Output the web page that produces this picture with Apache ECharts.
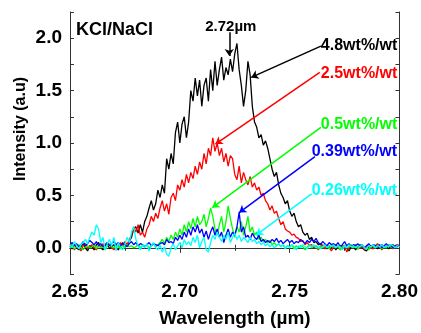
<!DOCTYPE html>
<html>
<head>
<meta charset="utf-8">
<script src="https://cdn.jsdelivr.net/npm/echarts@6/dist/echarts.min.js"></script>
<style>
  html, body { margin: 0; padding: 0; background: #fff; }
  #main { width: 421px; height: 333px; }
</style>
</head>
<body>
<div id="main"></div>
<script>
  // wavelength sampling (µm)
  const waveStart = 2.65
  const waveStep = 0.001
  const seriesNames = ['4.8wt%/wt', '2.5wt%/wt', '0.5wt%/wt', '0.39wt%/wt', '0.26wt%/wt']
  const seriesColors = ['#000000', '#ff0000', '#00ff00', '#0000ff', '#00ffff']

  const y48 = [
    0.02, -0.01, 0.03, 0.00, -0.02, 0.01, 0.04, 0.00, -0.03, 0.02,
    0.01, -0.02, 0.03, 0.05, 0.00, -0.02, 0.02, 0.04, -0.01, 0.01,
    0.03, 0.00, -0.02, 0.02, 0.05, 0.01, 0.03, 0.06, 0.10, 0.18,
    0.20, 0.14, 0.22, 0.15, 0.25, 0.30, 0.38, 0.45, 0.36, 0.42,
    0.55, 0.48, 0.60, 0.52, 0.85, 0.75, 0.90, 0.80, 1.10, 1.20,
    1.00, 1.18, 1.25, 1.05, 1.20, 1.50, 1.40, 1.62, 1.45, 1.60,
    1.35, 1.55, 1.62, 1.40, 1.70, 1.50, 1.78, 1.55, 1.70, 1.82,
    1.60, 1.72, 1.65, 1.80, 1.68, 1.85, 1.95, 1.70, 1.55, 1.35,
    1.50, 1.78, 1.65, 1.35, 1.20, 1.15, 1.05, 1.08, 0.98, 1.02,
    0.95, 0.85, 0.75, 0.68, 0.72, 0.60, 0.52, 0.48, 0.42, 0.45,
    0.35, 0.30, 0.33, 0.25, 0.20, 0.22, 0.15, 0.12, 0.14, 0.08,
    0.10, 0.05, 0.06, 0.03, 0.04, 0.01, 0.03, -0.01, 0.02, 0.00,
    0.03, -0.02, 0.01, 0.02, -0.01, 0.02, 0.00, -0.03, 0.01, 0.02,
    -0.02, 0.01, 0.03, 0.00, -0.02, -0.03, 0.01, 0.02, 0.00, 0.02,
    -0.01, 0.01, 0.03, 0.00, 0.02, -0.01, 0.01, 0.03, 0.00, 0.02, 0.01
  ]
  const y25 = [
    0.01, 0.03, -0.02, 0.02, 0.00, -0.03, 0.02, 0.04, -0.01, 0.01,
    0.03, 0.00, -0.02, 0.02, 0.01, 0.04, -0.01, 0.02, 0.03, 0.00,
    -0.02, 0.03, 0.01, 0.05, 0.02, 0.06, 0.03, 0.08, 0.12, 0.20,
    0.15, 0.22, 0.12, 0.15, 0.10, 0.18, 0.22, 0.30, 0.25, 0.33,
    0.28, 0.38, 0.45, 0.35, 0.42, 0.32, 0.48, 0.52, 0.45, 0.60,
    0.55, 0.65, 0.58, 0.70, 0.62, 0.72, 0.66, 0.78, 0.70, 0.82,
    0.75, 0.90, 0.80, 0.95, 0.88, 1.05, 0.92, 1.00, 0.88, 0.95,
    0.82, 0.90, 0.78, 0.88, 0.85, 0.70, 0.65, 0.78, 0.62, 0.72,
    0.65, 0.60, 0.68, 0.58, 0.62, 0.55, 0.58, 0.50, 0.52, 0.45,
    0.42, 0.36, 0.40, 0.33, 0.35, 0.28, 0.22, 0.25, 0.18, 0.16,
    0.15, 0.12, 0.13, 0.10, 0.09, 0.06, 0.07, 0.03, 0.05, 0.02,
    0.03, 0.00, 0.02, -0.02, 0.01, 0.03, -0.01, 0.02, 0.00, -0.03,
    0.01, 0.03, 0.00, -0.02, 0.02, 0.01, -0.04, 0.00, 0.02, 0.01,
    0.03, -0.01, 0.00, 0.02, -0.02, 0.01, 0.03, 0.00, -0.01, 0.02,
    0.04, 0.01, -0.02, 0.02, 0.00, 0.03, 0.01, -0.01, 0.02, 0.03, 0.01
  ]
  const y05 = [
    0.00, 0.02, -0.01, 0.01, 0.03, 0.00, -0.02, 0.01, 0.02, 0.00,
    0.01, 0.03, -0.01, 0.02, 0.00, 0.01, -0.02, 0.02, 0.04, 0.01,
    0.00, 0.02, 0.01, -0.01, 0.02, 0.00, 0.03, 0.01, 0.02, 0.00,
    0.01, 0.03, 0.00, 0.02, 0.01, 0.03, 0.00, 0.02, 0.04, 0.01,
    0.03, 0.05, 0.08, 0.04, 0.10, 0.06, 0.12, 0.08, 0.15, 0.10,
    0.18, 0.12, 0.22, 0.15, 0.25, 0.18, 0.28, 0.20, 0.30, 0.22,
    0.25, 0.32, 0.20, 0.28, 0.38, 0.30, 0.18, 0.12, 0.22, 0.30,
    0.15, 0.25, 0.40, 0.28, 0.18, 0.10, 0.20, 0.15, 0.25, 0.12,
    0.20, 0.30, 0.15, 0.20, 0.12, 0.15, 0.08, 0.10, 0.06, 0.08,
    0.05, 0.07, 0.03, 0.05, 0.02, 0.04, 0.01, 0.03, 0.00, 0.02,
    0.01, 0.03, -0.01, 0.02, 0.00, 0.02, 0.01, -0.02, 0.01, 0.03,
    0.00, 0.02, 0.01, -0.01, 0.02, 0.00, 0.03, 0.01, -0.01, 0.02,
    0.01, 0.00, 0.02, -0.02, 0.01, 0.02, 0.00, 0.01, 0.03, 0.00,
    0.02, -0.01, 0.01, 0.02, 0.00, 0.01, -0.02, 0.02, 0.01, 0.00,
    0.02, 0.01, -0.01, 0.02, 0.00, 0.03, 0.01, 0.00, 0.02, 0.01, 0.02
  ]
  const y039 = [
    0.03, 0.05, 0.02, 0.04, 0.01, 0.03, 0.06, 0.02, 0.04, 0.07,
    0.05, 0.03, 0.06, 0.02, 0.04, 0.01, 0.03, 0.05, 0.02, 0.04,
    0.06, 0.03, 0.05, 0.02, 0.04, 0.03, 0.01, 0.04, 0.06, 0.03,
    0.05, 0.02, 0.04, 0.03, 0.01, 0.03, 0.05, 0.02, 0.04, 0.03,
    0.02, 0.04, 0.05, 0.03, 0.08, 0.05, 0.06, 0.04, 0.10, 0.07,
    0.12, 0.08, 0.15, 0.10, 0.18, 0.12, 0.20, 0.15, 0.22, 0.14,
    0.18, 0.10, 0.16, 0.08, 0.15, 0.20, 0.12, 0.18, 0.10, 0.15,
    0.05, 0.12, 0.18, 0.10, 0.15, 0.12, 0.20, 0.34, 0.15, 0.20,
    0.10, 0.12, 0.08, 0.14, 0.10, 0.08, 0.12, 0.06, 0.08, 0.05,
    0.07, 0.05, 0.08, 0.06, 0.09, 0.05, 0.07, 0.04, 0.06, 0.08,
    0.05, 0.07, 0.04, 0.06, 0.05, 0.08, 0.06, 0.04, 0.07, 0.05,
    0.08, 0.06, 0.09, 0.05, 0.03, 0.06, 0.04, 0.02, 0.05, 0.03,
    0.04, 0.02, 0.05, 0.01, 0.03, 0.06, 0.02, 0.04, 0.01, 0.03,
    0.02, 0.04, 0.01, 0.03, 0.00, 0.02, 0.04, 0.01, 0.03, 0.02,
    0.01, 0.03, 0.00, 0.02, 0.04, 0.01, 0.03, 0.00, 0.02, 0.01, 0.03
  ]
  const y026 = [
    0.03, 0.00, 0.06, 0.02, -0.01, 0.03, 0.05, 0.08, 0.04, 0.10,
    0.15, 0.12, 0.22, 0.18, 0.05, 0.10, -0.02, 0.04, 0.08, 0.02,
    0.10, -0.03, 0.05, 0.00, -0.02, 0.03, 0.10, 0.05, 0.15, 0.20,
    0.08, 0.02, -0.02, 0.03, 0.00, 0.04, -0.03, 0.02, 0.05, 0.00,
    -0.02, 0.03, -0.04, 0.01, -0.06, -0.08, 0.00, 0.04, -0.02, 0.02,
    0.05, 0.00, 0.08, 0.03, 0.06, 0.02, 0.10, 0.05, 0.12, 0.00,
    0.06, 0.10, -0.02, -0.04, 0.05, 0.12, 0.08, 0.15, 0.10, 0.06,
    0.12, 0.08, 0.15, 0.05, 0.10, 0.14, 0.08, 0.12, 0.06, 0.10,
    0.08, 0.05, 0.10, 0.06, 0.08, 0.04, 0.06, 0.03, 0.05, 0.02,
    0.04, 0.01, 0.03, 0.00, 0.02, 0.04, 0.01, 0.03, -0.01, 0.02,
    0.00, 0.03, 0.01, -0.02, 0.02, 0.00, 0.03, 0.01, -0.01, 0.02,
    0.01, 0.03, 0.00, 0.02, -0.01, 0.01, 0.03, 0.00, 0.02, 0.01,
    0.03, 0.00, 0.02, 0.01, -0.02, 0.02, 0.00, 0.03, 0.01, 0.02,
    0.00, 0.02, 0.01, 0.03, 0.00, -0.01, 0.02, 0.01, 0.03, 0.00,
    0.02, 0.01, 0.03, 0.00, 0.02, 0.01, 0.03, 0.02, 0.00, 0.02, 0.01
  ]
  const seriesValues = [y48, y25, y05, y039, y026]

  // annotation arrows: [from, to] in data coordinates (wavelength, intensity)
  const arrowFrom = [[2.7642, 1.925], [2.7637, 1.673], [2.7642, 1.15], [2.7615, 0.87], [2.7600, 0.514]]
  const arrowTo = [[2.7325, 1.626], [2.7162, 0.99], [2.7148, 0.383], [2.7270, 0.336], [2.7347, 0.12]]
  // label anchors (left / middle) in data coordinates
  const labelPos = [[2.7642, 1.925], [2.7642, 1.664], [2.7642, 1.178], [2.7600, 0.916], [2.7600, 0.542]]
  const peakArrow = [[2.7225, 2.056], [2.7225, 1.83]]
  const peakLabelPos = [2.7232, 2.11]

  const fontFam = '"Liberation Sans", Arial, sans-serif'
  const chart = echarts.init(document.getElementById('main'))

  const xs = y48.map((v, i) => +(waveStart + i * waveStep).toFixed(3))

  const axisCommon = {
    axisLine: { lineStyle: { color: '#333', width: 1 } },
    axisTick: { inside: true, length: 5, lineStyle: { color: '#333', width: 1 } },
    splitLine: { show: false }
  }

  const series = seriesValues.map((vals, k) => ({
    name: seriesNames[k],
    type: 'line',
    data: vals.map((v, i) => [xs[i], v]),
    showSymbol: false,
    symbol: 'none',
    lineStyle: { color: seriesColors[k], width: 1.3 },
    itemStyle: { color: seriesColors[k] },
    z: 2 + k,
    markLine: {
      silent: true,
      symbol: ['none', 'arrow'],
      symbolSize: 7,
      label: { show: false },
      lineStyle: { color: seriesColors[k], width: 1.5, type: 'solid' },
      data: k === 0
        ? [[{ coord: arrowFrom[k] }, { coord: arrowTo[k] }], [{ coord: peakArrow[0] }, { coord: peakArrow[1] }]]
        : [[{ coord: arrowFrom[k] }, { coord: arrowTo[k] }]]
    }
  }))

  const option = {
    animation: false,
    backgroundColor: '#fff',
    grid: { left: 70, right: 20, top: 12, bottom: 55 },
    xAxis: [
      Object.assign({}, axisCommon, {
        type: 'value',
        min: 2.65,
        max: 2.80,
        interval: 0.05,
        minorTick: { show: true, splitNumber: 2, length: 3, lineStyle: { color: '#333' } },
        axisLabel: {
          margin: 8,
          color: '#000',
          fontWeight: 'bold',
          fontSize: 19,
          fontFamily: fontFam,
          formatter: v => v.toFixed(2)
        },
        name: 'Wavelength (µm)',
        nameLocation: 'middle',
        nameGap: 35,
        nameTextStyle: { color: '#000', fontWeight: 'bold', fontSize: 19, fontFamily: fontFam }
      }),
      Object.assign({}, axisCommon, {
        type: 'value',
        position: 'top',
        min: 2.65,
        max: 2.80,
        interval: 0.05,
        minorTick: { show: true, splitNumber: 2, length: 3, lineStyle: { color: '#333' } },
        axisLabel: { show: false }
      })
    ],
    yAxis: [
      Object.assign({}, axisCommon, {
        type: 'value',
        min: -0.25,
        max: 2.25,
        interval: 0.25,
        axisTick: { inside: true, length: 4, lineStyle: { color: '#333', width: 1 } },
        axisLabel: {
          margin: 8,
          color: '#000',
          fontWeight: 'bold',
          fontSize: 19,
          fontFamily: fontFam,
          formatter: v => {
            const r = Math.round(v * 100) / 100
            if (Math.abs(r * 2 - Math.round(r * 2)) > 1e-6) return ''
            return Math.abs(r).toFixed(1) === '0.0' ? '0.0' : r.toFixed(1)
          }
        }
      }),
      Object.assign({}, axisCommon, {
        type: 'value',
        position: 'right',
        min: -0.25,
        max: 2.25,
        interval: 0.25,
        axisTick: { inside: true, length: 4, lineStyle: { color: '#333', width: 1 } },
        axisLabel: { show: false }
      })
    ],
    series: series
  }
  chart.setOption(option)

  // text annotations, placed from data coordinates
  const toPx = p => chart.convertToPixel({ xAxisIndex: 0, yAxisIndex: 0 }, p)
  const graphics = []
  seriesNames.forEach((name, k) => {
    const p = toPx(labelPos[k])
    graphics.push({
      type: 'text', x: p[0], y: p[1], z: 100,
      style: {
        text: name, fill: seriesColors[k],
        font: 'bold 16px ' + fontFam,
        textAlign: 'left', textVerticalAlign: 'middle'
      }
    })
  })
  const pk = toPx(peakLabelPos)
  graphics.push({
    type: 'text', x: pk[0], y: pk[1], z: 100,
    style: { text: '2.72µm', fill: '#000', font: 'bold 15px ' + fontFam, textAlign: 'center', textVerticalAlign: 'middle' }
  })
  graphics.push({
    type: 'text', x: 76, y: 30, z: 100,
    style: { text: 'KCl/NaCl', fill: '#000', font: 'bold 18px ' + fontFam, textAlign: 'left', textVerticalAlign: 'middle' }
  })
  graphics.push({
    type: 'text', x: 21, y: 129, rotation: Math.PI / 2, z: 100,
    style: { text: 'Intensity (a.u)', fill: '#000', font: 'bold 16px ' + fontFam, textAlign: 'center', textVerticalAlign: 'middle' }
  })
  chart.setOption({ graphic: graphics })
</script>
</body>
</html>
